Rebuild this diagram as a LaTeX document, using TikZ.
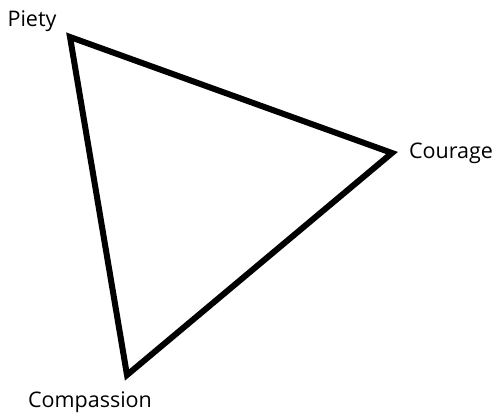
\documentclass[tikz,border=0pt]{standalone}
\usepackage{fontspec}
\setmainfont{Open Sans}
\usepackage{tikz}
\usetikzlibrary{positioning}

\begin{document}
\begin{tikzpicture}[x=1pt, y=1pt, line join=miter,
		virtue/.style={font=\fontsize{21.5}{25}\selectfont, inner sep=0pt},
		side/.style={line width=6pt}]
	\useasboundingbox (0,0) rectangle (496,415);
	
	% Corners of the triangle
	\coordinate (piety) at (70,378);
	\coordinate (courage) at (392,262);
	\coordinate (compassion) at (127,40);
	
	\draw[side] (piety) -- (courage) -- (compassion) -- cycle;
	
	% Labels
	\node[virtue] (pietylbl) at (32,394) {Piety};
	\node[virtue] (couragelbl) at (451,262) {Courage};
	\node[virtue] (compassionlbl) at (90,13) {Compassion};
\end{tikzpicture}
\end{document}
